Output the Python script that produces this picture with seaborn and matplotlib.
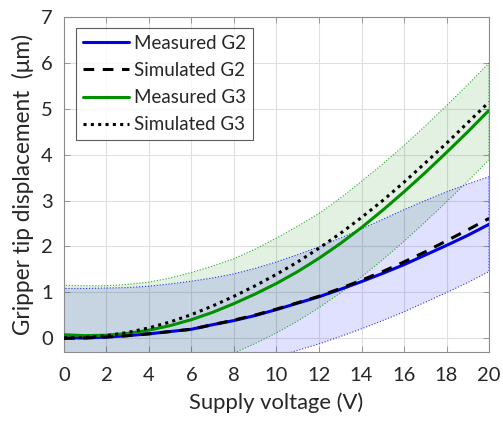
import matplotlib
matplotlib.use("Agg")
import matplotlib.pyplot as plt
import seaborn as sns

voltage = [0, 1, 2, 3, 4, 5, 6, 7, 8, 9, 10, 11, 12, 13, 14, 15, 16, 17, 18, 19, 20]
measured_g2 = [0.00, 0.00, 0.02, 0.05, 0.09, 0.14, 0.19, 0.29, 0.38, 0.49, 0.62,
               0.76, 0.90, 1.06, 1.23, 1.41, 1.60, 1.81, 2.02, 2.24, 2.48]
simulated_g2 = [-0.01, 0.00, 0.02, 0.05, 0.09, 0.14, 0.19, 0.29, 0.39, 0.50, 0.63,
                0.77, 0.91, 1.08, 1.26, 1.45, 1.66, 1.88, 2.12, 2.36, 2.61]
measured_g3 = [0.07, 0.05, 0.06, 0.10, 0.17, 0.27, 0.40, 0.56, 0.75, 0.96, 1.19,
               1.45, 1.74, 2.06, 2.41, 2.79, 3.19, 3.61, 4.05, 4.50, 4.97]
simulated_g3 = [0.00, 0.01, 0.05, 0.12, 0.22, 0.35, 0.51, 0.70, 0.91, 1.14, 1.39,
                1.66, 1.96, 2.28, 2.63, 3.00, 3.40, 3.82, 4.25, 4.70, 5.15]
g2_upper = [1.08, 1.08, 1.09, 1.10, 1.13, 1.18, 1.24, 1.31, 1.40, 1.52, 1.66,
            1.82, 1.99, 2.18, 2.38, 2.59, 2.80, 3.00, 3.19, 3.36, 3.52]
g2_lower = [-1.03, -1.03, -1.01, -0.98, -0.94, -0.89, -0.84, -0.74, -0.65, -0.54, -0.41,
            -0.27, -0.13, 0.03, 0.20, 0.38, 0.57, 0.78, 0.99, 1.21, 1.45]
g3_upper = [1.15, 1.14, 1.14, 1.17, 1.22, 1.31, 1.43, 1.57, 1.73, 1.94, 2.18,
            2.44, 2.72, 3.05, 3.42, 3.80, 4.20, 4.63, 5.07, 5.53, 6.00]
g3_lower = [-1.01, -1.03, -1.02, -0.98, -0.91, -0.81, -0.68, -0.52, -0.33, -0.12, 0.11,
            0.37, 0.66, 0.98, 1.33, 1.71, 2.11, 2.53, 2.97, 3.42, 3.89]

x_ticks = [0, 2, 4, 6, 8, 10, 12, 14, 16, 18, 20]
y_ticks = [0, 1, 2, 3, 4, 5, 6, 7]

sns.set_theme(style="ticks")
plt.rcParams['font.family'] = ['Lato', 'DejaVu Sans']

txt = '#262626'
fig = plt.figure(figsize=(5.03, 4.25), dpi=100)
ax = fig.add_axes([0.1272, 0.1725, 0.845, 0.7868])

ax.fill_between(voltage, g2_lower, g2_upper, facecolor=(0, 0, 1, 0.12),
                edgecolor=(0, 0, 1, 0.8), linestyle=':', linewidth=0.8, zorder=1)
ax.fill_between(voltage, g3_lower, g3_upper, facecolor=(0, 0.5, 0, 0.11),
                edgecolor=(0, 0.6, 0, 0.8), linestyle=':', linewidth=0.8, zorder=1)

sns.lineplot(x=voltage, y=measured_g2, ax=ax, color='#0000e0', lw=2.2,
             label='Measured G2', zorder=3)
sns.lineplot(x=voltage, y=simulated_g2, ax=ax, color='black', lw=2.2,
             linestyle=(0, (3.5, 2.8)), label='Simulated G2', zorder=4)
sns.lineplot(x=voltage, y=measured_g3, ax=ax, color='#009000', lw=2.2,
             label='Measured G3', zorder=3)
sns.lineplot(x=voltage, y=simulated_g3, ax=ax, color='black', lw=2.2,
             linestyle=(0, (1, 1.4)), label='Simulated G3', zorder=4)

ax.set_xlim(0, 20)
ax.set_ylim(-0.3, 7)
ax.set_xticks(x_ticks)
ax.set_yticks(y_ticks)
ax.grid(True, color='#e0e0e0', linewidth=0.8)
ax.set_axisbelow(True)
for s in ax.spines.values():
    s.set_color('#8c8c8c')
    s.set_linewidth(0.8)
    s.set_visible(True)
ax.tick_params(direction='in', length=4, width=0.6, color='#8c8c8c',
               labelsize=14.5, labelcolor=txt, top=True, right=True)
ax.tick_params(axis='x', pad=11)
ax.tick_params(axis='y', pad=8)
ax.set_xlabel('Supply voltage (V)', fontsize=15.8, color=txt, labelpad=6)
ax.set_ylabel('Gripper tip displacement  (\u03bcm)', fontsize=16.3, color=txt, labelpad=5)

leg = ax.legend(loc='upper left', bbox_to_anchor=(0.029, 0.968), fontsize=13.5,
                frameon=True, fancybox=False, handlelength=2.45, handletextpad=0.3,
                borderpad=0.35, labelspacing=0.55, borderaxespad=0)
leg.get_frame().set_edgecolor('#333333')
leg.get_frame().set_linewidth(0.8)
for t in leg.get_texts():
    t.set_color(txt)

fig.savefig('out.png', dpi=100)
